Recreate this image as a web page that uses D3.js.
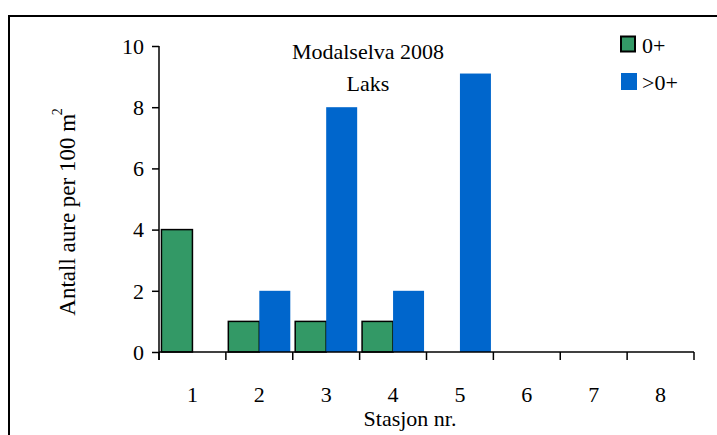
<!DOCTYPE html>
<html><head><meta charset="utf-8">
<script src="https://cdn.jsdelivr.net/npm/d3@7"></script>
<style>body{margin:0;background:#fff}svg{display:block}svg text{font-family:"Liberation Serif","Times New Roman",serif !important;fill:#000}</style>
</head><body>
<svg id="c" width="717" height="435"></svg>
<script>
const stations = ["1","2","3","4","5","6","7","8"];
const seriesNames = ["0+", ">0+"];
const age0 = [4, 1, 1, 1, 0, 0, 0, 0];
const older = [0, 2, 8, 2, 9.1, 0, 0, 0];
const yTicks = [0, 2, 4, 6, 8, 10];
const colors = ["#339966", "#0066CC"];
const titleLines = ["Modalselva 2008", "Laks"];

const svg = d3.select("#c");
svg.append("rect").attr("x", 9).attr("y", 16).attr("width", 730).attr("height", 440)
  .attr("fill", "none").attr("stroke", "#000").attr("stroke-width", 2);

const x0 = d3.scaleBand().domain(stations).range([159, 694]).padding(0);
const x1 = d3.scaleBand().domain(seriesNames).range([0, x0.bandwidth()]).paddingInner(0).paddingOuter(0.079);
const y = d3.scaleLinear().domain([0, 10]).range([352, 46]);

const series = [age0, older];
const bars = [];
series.forEach((vals, si) => vals.forEach((v, i) => { if (v > 0) bars.push({s: seriesNames[si], si, st: stations[i], v}); }));

svg.append("g").selectAll("rect").data(bars).join("rect")
  .attr("x", d => x0(d.st) + x1(d.s))
  .attr("y", d => y(d.v))
  .attr("width", x1.bandwidth())
  .attr("height", d => y(0) - y(d.v))
  .attr("fill", d => colors[d.si])
  .attr("stroke", d => d.si === 0 ? "#000" : "none")
  .attr("stroke-width", 1.5);

// y axis
const ya = svg.append("g").attr("transform", "translate(159,0)")
  .call(d3.axisLeft(y).tickValues(yTicks).tickSize(7).tickPadding(8).tickFormat(d3.format("d")));
ya.attr("font-family", null);
ya.select(".domain").attr("d", "M0,46V360").attr("stroke", "#000").attr("stroke-width", 1.5);
ya.selectAll(".tick line").attr("stroke", "#000").attr("stroke-width", 1.5);
ya.selectAll(".tick text").attr("font-size", 22).attr("fill", "#000").attr("dy", "0.33em");

// x axis
const xa = svg.append("g").attr("transform", "translate(0,352)");
xa.append("line").attr("x1", 159).attr("x2", 694).attr("y1", 0).attr("y2", 0).attr("stroke", "#000").attr("stroke-width", 1.5);
const bounds = stations.map(s => x0(s)).concat([x0.range()[1]]);
xa.selectAll(".tk").data(bounds).join("line").attr("class", "tk")
  .attr("x1", d => d).attr("x2", d => d).attr("y1", 0).attr("y2", 8)
  .attr("stroke", "#000").attr("stroke-width", 1.5);
xa.selectAll(".lb").data(stations).join("text").attr("class", "lb")
  .attr("x", d => x0(d) + x0.bandwidth() / 2).attr("y", 50)
  .attr("text-anchor", "middle").attr("font-size", 22).text(d => d);

svg.append("text").attr("x", 410).attr("y", 426).attr("text-anchor", "middle")
  .attr("font-size", 22).text("Stasjon nr.");

// y label
const yl = svg.append("text").attr("transform", "translate(75,212) rotate(-90)")
  .attr("text-anchor", "middle").attr("font-size", 23);
yl.append("tspan").text("Antall aure per 100 m");
yl.append("tspan").attr("dy", "-0.95em").attr("dx", "-0.1em").attr("font-size", 14).text("2");

// title
svg.selectAll(".tt").data(titleLines).join("text").attr("class", "tt")
  .attr("x", 368).attr("y", (d, i) => 59 + i * 32).attr("text-anchor", "middle")
  .attr("font-size", 22).text(d => d);

// legend
const lg = svg.append("g");
seriesNames.forEach((n, i) => {
  const yy = 36 + i * 37;
  lg.append("rect").attr("x", 621).attr("y", yy + (i ? 0 : 0.5)).attr("width", i ? 16 : 14).attr("height", i ? 17 : 15)
    .attr("fill", colors[i]).attr("stroke", i ? "none" : "#000").attr("stroke-width", 2);
  lg.append("text").attr("x", 642).attr("y", yy + 17).attr("font-size", 22).text(n);
});
</script>
</body></html>
